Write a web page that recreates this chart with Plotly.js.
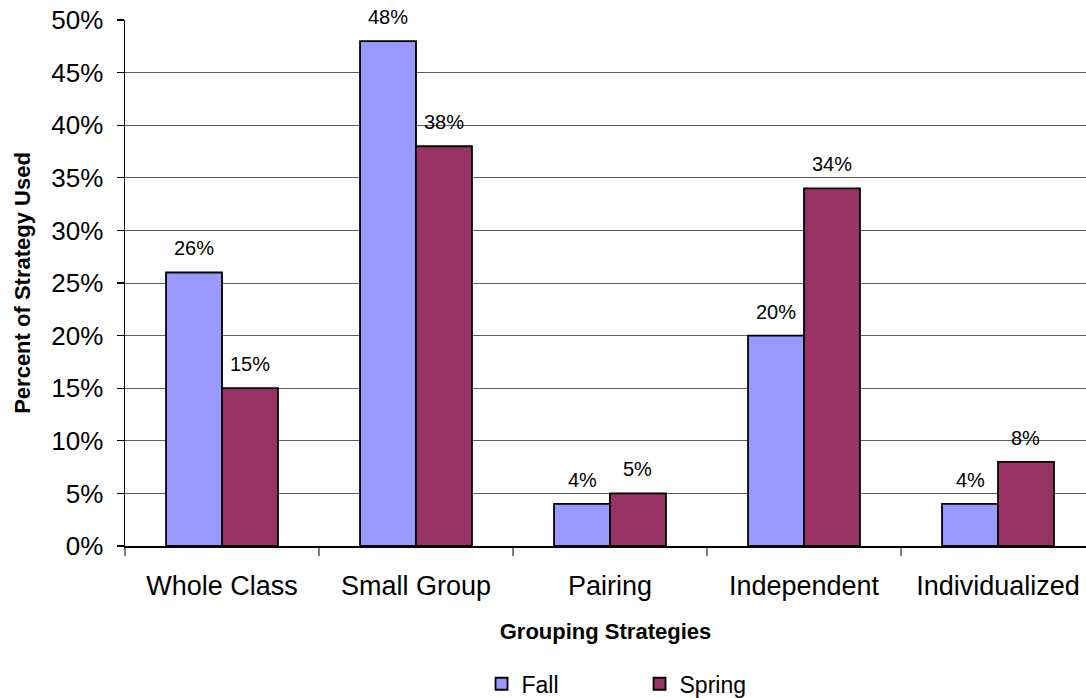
<!DOCTYPE html>
<html>
<head>
<meta charset="utf-8">
<script src="https://cdn.plot.ly/plotly-3.0.1.min.js"></script>
<style>
  html, body { margin: 0; padding: 0; background: #ffffff; }
  #chart { width: 1086px; height: 698px; }
</style>
</head>
<body>
<div id="chart"></div>
<script>
// Grouping strategies observed in fall and spring (percent of use)
const categories = ['Whole Class', 'Small Group', 'Pairing', 'Independent', 'Individualized'];
const fallValues = [26, 48, 4, 20, 4];
const springValues = [15, 38, 5, 34, 8];
const seriesNames = ['Fall', 'Spring'];

const FONT = 'Liberation Sans, Arial, sans-serif';
const BAR_GAP = 0.423;
const barHalf = (1 - BAR_GAP) / 4; // centre offset of each bar inside its group

const outline = { color: '#000000', width: 1.8 };

const traces = [
  {
    type: 'bar', name: seriesNames[0], x: categories, y: fallValues,
    marker: { color: '#9999FF', line: outline }, hoverinfo: 'x+y'
  },
  {
    type: 'bar', name: seriesNames[1], x: categories, y: springValues,
    marker: { color: '#993366', line: outline }, hoverinfo: 'x+y'
  }
];

// value labels above each bar
const annotations = [];
[fallValues, springValues].forEach((vals, s) => {
  vals.forEach((v, i) => {
    annotations.push({
      x: i + (s === 0 ? -barHalf : barHalf), xref: 'x',
      y: v, yref: 'y',
      text: v + '%', showarrow: false,
      yanchor: 'middle', yshift: 24,
      font: { family: FONT, size: 20, color: '#000000' }
    });
  });
});

const layout = {
  width: 1086, height: 698,
  margin: { l: 125, r: 0, t: 20, b: 152, autoexpand: false },
  paper_bgcolor: '#ffffff', plot_bgcolor: '#ffffff',
  barmode: 'group', bargap: BAR_GAP, bargroupgap: 0,
  font: { family: FONT, color: '#000000' },
  showlegend: true,
  legend: {
    orientation: 'h', x: 0.371, xanchor: 'left', y: -0.262, yanchor: 'middle',
    entrywidth: 113, entrywidthmode: 'pixels',
    font: { family: FONT, size: 23, color: '#000000' },
    bgcolor: 'rgba(0,0,0,0)'
  },
  xaxis: {
    type: 'category', automargin: false,
    range: [-0.5, -0.5 + 961 / 194],
    tickson: 'boundaries',
    ticks: 'outside', ticklen: 8, tickcolor: '#808080', tickwidth: 1.5,
    showline: true, linecolor: '#000000', linewidth: 1.5,
    showgrid: false, zeroline: false,
    tickfont: { family: FONT, size: 27, color: '#000000' },
    ticklabelstandoff: 15,
    title: {
      text: '<b>Grouping Strategies</b>', standoff: 23,
      font: { family: FONT, size: 22, color: '#000000' }
    }
  },
  yaxis: {
    automargin: false,
    range: [0, 50], dtick: 5, ticksuffix: '%',
    ticks: 'outside', ticklen: 7, tickcolor: '#000000', tickwidth: 1.2,
    showline: true, linecolor: '#000000', linewidth: 1.5,
    showgrid: true, gridcolor: '#606060', gridwidth: 1,
    zeroline: false,
    tickfont: { family: FONT, size: 26, color: '#000000' },
    ticklabelstandoff: 8,
    title: {
      text: '<b>Percent of Strategy Used</b>', standoff: 14,
      font: { family: FONT, size: 22, color: '#000000' }
    }
  },
  annotations: annotations
};

Plotly.newPlot('chart', traces, layout, { displayModeBar: false, staticPlot: true });
</script>
</body>
</html>
